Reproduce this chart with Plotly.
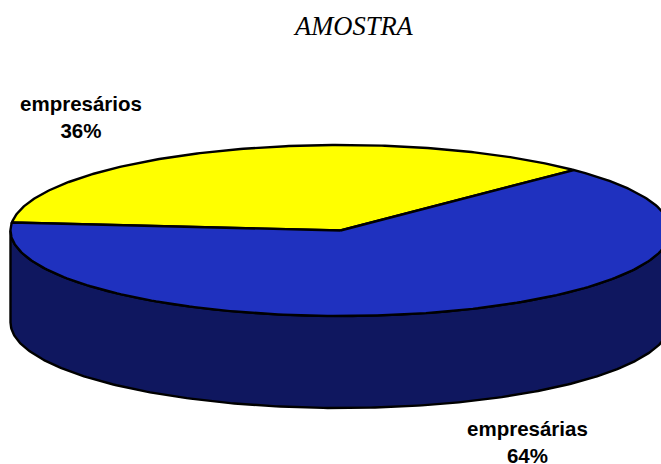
import numpy as np
import plotly.graph_objects as go

categories = ["empresários", "empresárias"]
values = [36, 64]
title = "AMOSTRA"
colors = ["#FFFF00", "#1F31BF"]
side_color = "#0F175F"
start_deg = 45.0
cx, cy, rx, ry, depth = 340.5, 230.5, 330.0, 85.5, 92.0


def ell(t_deg, dy=0.0):
    t = np.radians(t_deg)
    return cx + rx * np.cos(t), cy - ry * np.sin(t) + dy


fig = go.Figure()

# side wall: lower half of the ellipse, extruded downwards
t_side = np.linspace(180, 360, 241)
xa, ya = ell(t_side)
xb, yb = ell(t_side[::-1], depth)
fig.add_trace(go.Scatter(x=np.r_[xa, xb, xa[0]], y=np.r_[ya, yb, ya[0]], mode="lines",
                         fill="toself", fillcolor=side_color,
                         line=dict(color="black", width=2.4), hoverinfo="skip"))

a0 = start_deg
shares = [v / sum(values) * 360 for v in values]
for name, share, col in zip(categories, shares, colors):
    t = np.linspace(a0, a0 + share, 241)
    ex, ey = ell(t)
    fig.add_trace(go.Scatter(x=np.r_[cx, ex, cx], y=np.r_[cy, ey, cy], mode="lines",
                             fill="toself", fillcolor=col, name=name,
                             line=dict(color="black", width=2.4), hoverinfo="skip"))
    a0 += share

font = dict(family="Liberation Sans", size=20.5, color="black")
annots = [
    dict(x=80.5, y=117, text=f"<b>{categories[0]}<br>{values[0]}%</b>"),
    dict(x=527.5, y=442, text=f"<b>{categories[1]}<br>{values[1]}%</b>"),
    dict(x=353.5, y=26, text=f"<i>{title}</i>",
         font=dict(family="Liberation Serif", size=26.5, color="black")),
]
for a in annots:
    a.setdefault("font", font)
    fig.add_annotation(xref="x", yref="y", showarrow=False, align="center", **a)

fig.update_layout(
    width=661, height=464, margin=dict(l=0, r=0, t=0, b=0),
    paper_bgcolor="white", plot_bgcolor="white", showlegend=False,
    xaxis=dict(range=[0, 661], visible=False, fixedrange=True),
    yaxis=dict(range=[464, 0], visible=False, fixedrange=True),
)
fig.write_html("out.html", config=dict(displayModeBar=False),
               post_script="document.body.style.margin='0';document.body.style.overflow='hidden';")
